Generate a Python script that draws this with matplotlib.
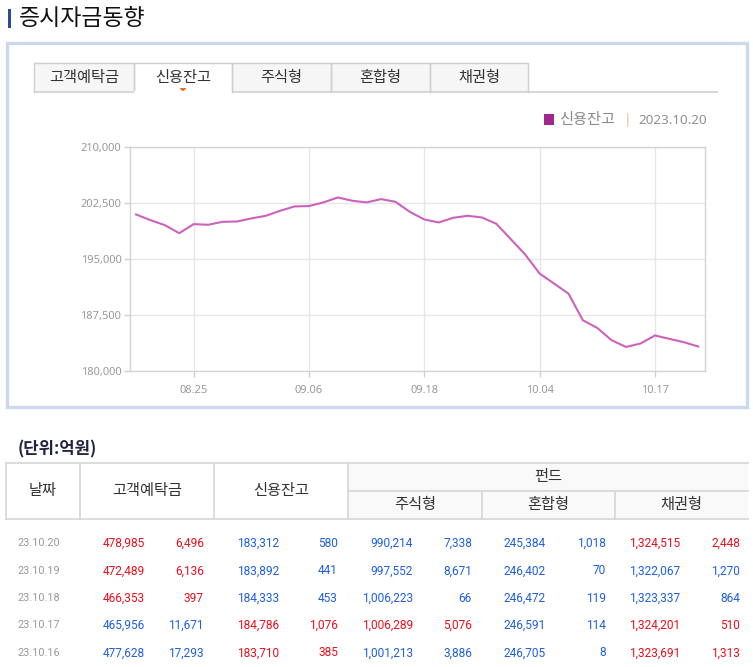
import matplotlib
matplotlib.use("Agg")
import matplotlib.pyplot as plt
from matplotlib.patches import Rectangle, Polygon
from matplotlib.ticker import FuncFormatter, FixedLocator

plt.rcParams['font.family'] = ['Noto Sans CJK KR', 'DejaVu Sans']

# ---------------- data ----------------
title = "증시자금동향"
tabs = ["고객예탁금", "신용잔고", "주식형", "혼합형", "채권형"]
selected_tab = "신용잔고"
legend_label = "신용잔고"
legend_date = "2023.10.20"

dates = ["08.21", "08.22", "08.23", "08.24", "08.25",
         "08.28", "08.29", "08.30", "08.31", "09.01",
         "09.04", "09.05", "09.06", "09.07", "09.08",
         "09.11", "09.12", "09.13", "09.14", "09.15",
         "09.18", "09.19", "09.20", "09.21", "09.22",
         "09.25", "09.26", "09.27",
         "10.04", "10.05", "10.06",
         "10.10", "10.11", "10.12", "10.13",
         "10.16", "10.17", "10.18", "10.19", "10.20"]
credit_balance = [200950, 200190, 199520, 198450, 199660,
                  199570, 199970, 200010, 200420, 200770,
                  201440, 202020, 202070, 202560, 203220,
                  202780, 202560, 203000, 202640, 201290,
                  200280, 199880, 200500, 200770, 200550,
                  199700, 197650, 195600,
                  193060, 191720, 190380,
                  186820, 185790, 184140, 183250,
                  183710, 184786, 184333, 183892, 183312]
tick_dates = ["08.25", "09.06", "09.18", "10.04", "10.17"]
y_ticks = [180000, 187500, 195000, 202500, 210000]

unit_label = "(단위:억원)"
table_dates = ["23.10.20", "23.10.19", "23.10.18", "23.10.17", "23.10.16"]
deposit = [478985, 472489, 466353, 465956, 477628]
deposit_chg = [6496, 6136, 397, -11671, -17293]
credit = [183312, 183892, 184333, 184786, 183710]
credit_chg = [-580, -441, -453, 1076, 385]
stock_fund = [990214, 997552, 1006223, 1006289, 1001213]
stock_fund_chg = [-7338, -8671, -66, 5076, -3886]
mixed_fund = [245384, 246402, 246472, 246591, 246705]
mixed_fund_chg = [-1018, -70, -119, -114, -8]
bond_fund = [1324515, 1322067, 1323337, 1324201, 1323691]
bond_fund_chg = [2448, -1270, -864, 510, 1313]
header_top = ["날짜", "고객예탁금", "신용잔고", "펀드"]
header_sub = ["주식형", "혼합형", "채권형"]

# ---------------- figure ----------------
W, H = 753, 667
fig = plt.figure(figsize=(W / 100, H / 100), dpi=100)
bg = fig.add_axes([0, 0, 1, 1])
bg.set_xlim(0, W)
bg.set_ylim(H, 0)
bg.axis("off")

# title
bg.add_patch(Rectangle((8, 9), 3, 19, color="#2a4aa0", lw=0))
bg.text(19, 18.5, title, fontsize=16.5, color="#111111", va="center", ha="left")

# outer box
bg.add_patch(Rectangle((7.5, 42.5), 740, 364, fill=False, ec="#cbd9ef", lw=2.4))

# tabs
tab_edges = [34, 134, 232, 331, 430, 528]
tab_top, tab_bot = 63, 92
bg.plot([34, 718], [tab_bot, tab_bot], color="#cfcfcf", lw=1.2, solid_capstyle="butt")
for i, name in enumerate(tabs):
    x0, x1 = tab_edges[i], tab_edges[i + 1]
    sel = name == selected_tab
    bg.add_patch(Rectangle((x0, tab_top), x1 - x0, tab_bot - tab_top,
                           fc="white" if sel else "#f6f6f6", ec="none"))
    bg.plot([x0, x0, x1, x1], [tab_bot, tab_top, tab_top, tab_bot],
            color="#cfcfcf", lw=1.0)
    if sel:
        bg.plot([x0 + 0.8, x1 - 0.8], [tab_bot, tab_bot], color="white", lw=1.6)
        cx = (x0 + x1) / 2
        bg.add_patch(Polygon([[cx - 3.5, 88], [cx + 3.5, 88], [cx, 92]],
                             closed=True, color="#f06a24", lw=0))
    bg.text((x0 + x1) / 2, 77.5, name, fontsize=11, color="#333333",
            ha="center", va="center")

# legend
bg.add_patch(Rectangle((544, 114), 10.5, 10.5, color="#a0288c", lw=0))
bg.text(559, 119.5, legend_label, fontsize=11, color="#8a8a8a", ha="left", va="center")
bg.text(627, 120, "|", fontsize=9.5, color="#e2b27a", ha="center", va="center")
bg.text(707, 120, legend_date, fontsize=9.7, color="#8f8f8f", ha="right", va="center",
        family=["Noto Sans", "DejaVu Sans"])

# ---------------- line chart ----------------
L, R, T, B = 129.7, 704.5, 146.7, 371.3
ax = fig.add_axes([L / W, 1 - B / H, (R - L) / W, (B - T) / H])
xs = list(range(len(credit_balance)))
ax.plot(xs, credit_balance, color="#cc62bd", lw=1.5, solid_joinstyle="round", zorder=3)
ax.set_xlim(-0.44, len(xs) - 1 + 0.44)
ax.set_ylim(y_ticks[0], y_ticks[-1])
ax.yaxis.set_major_locator(FixedLocator(y_ticks))
ax.yaxis.set_major_formatter(FuncFormatter(lambda v, p: f"{int(v):,}"))
tick_pos = [dates.index(d) for d in tick_dates]
ax.set_xticks(tick_pos)
ax.set_xticklabels(tick_dates)
ax.grid(True, color="#e6e6e6", lw=1.0)
ax.set_axisbelow(True)
for s in ax.spines.values():
    s.set_color("#d4d4d4")
    s.set_linewidth(1.0)
ax.tick_params(axis="both", colors="#d0d0d0", labelcolor="#999999",
               labelsize=8, length=4, width=1.0)
ax.tick_params(axis="y", pad=2)
ax.tick_params(axis="x", pad=6)
for lab in ax.get_xticklabels() + ax.get_yticklabels():
    lab.set_family(["Noto Sans", "DejaVu Sans"])

# ---------------- table ----------------
bg.text(18, 449, unit_label, fontsize=12, color="#222244", weight="bold",
        ha="left", va="center")

col = [6, 80, 214, 348, 482, 615, 748]
t_top, t_mid, t_bot = 463, 491, 519
line_c = "#d6d6d6"
bg.add_patch(Rectangle((348, t_top), 400, t_bot - t_top, fc="#f9f9f9", ec="none"))
bg.plot([col[0], col[-1]], [t_top, t_top], color=line_c, lw=1.2)
bg.plot([col[0], col[-1]], [t_bot, t_bot], color=line_c, lw=1.2)
bg.plot([348, 748], [t_mid, t_mid], color=line_c, lw=1.2)
for x in col[:4]:
    bg.plot([x, x], [t_top, t_bot], color=line_c, lw=1.2)
for x in col[4:6]:
    bg.plot([x, x], [t_mid, t_bot], color=line_c, lw=1.2)

hdr_kw = dict(fontsize=11, color="#333333", ha="center", va="center")
for i, name in enumerate(header_top[:3]):
    bg.text((col[i] + col[i + 1]) / 2, (t_top + t_bot) / 2, name, **hdr_kw)
bg.text((col[3] + col[6]) / 2, (t_top + t_mid) / 2, header_top[3], **hdr_kw)
for i, name in enumerate(header_sub):
    bg.text((col[3 + i] + col[4 + i]) / 2, (t_mid + t_bot) / 2, name, **hdr_kw)

RED, BLUE = "#e8101e", "#1f5fe0"
row_y = [543.5, 571, 598, 625.5, 653]
num_font = ["Roboto", "DejaVu Sans"]
groups = [(deposit, deposit_chg, 145, 204),
          (credit, credit_chg, 279, 338),
          (stock_fund, stock_fund_chg, 413, 472),
          (mixed_fund, mixed_fund_chg, 546, 606),
          (bond_fund, bond_fund_chg, 680, 740)]
for r, y in enumerate(row_y):
    bg.text(38.5, y, table_dates[r], fontsize=7.8, color="#999999", ha="center",
            va="center", family=num_font)
    for vals, chgs, xv, xc in groups:
        c = RED if chgs[r] > 0 else BLUE
        bg.text(xv, y, f"{vals[r]:,}", fontsize=8.6, color=c, ha="right",
                va="center", family=num_font)
        bg.text(xc, y, f"{abs(chgs[r]):,}", fontsize=8.6, color=c, ha="right",
                va="center", family=num_font)

fig.savefig("out.png", dpi=100)
